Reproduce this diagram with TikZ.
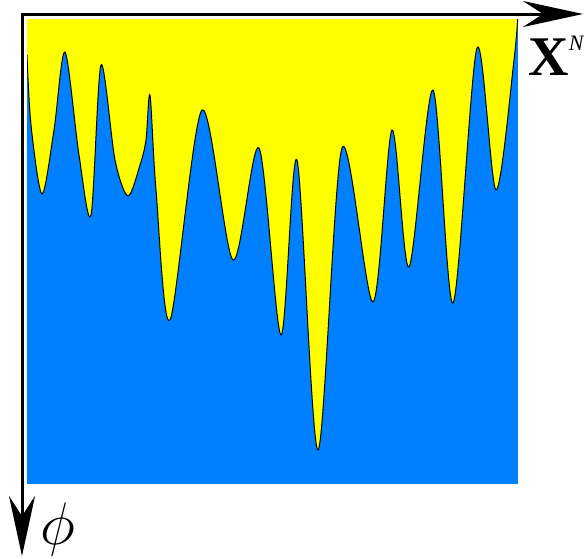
\documentclass[tikz,border=0pt]{standalone}
\usepackage{fontspec}
\usepackage{fix-cm}
\usetikzlibrary{arrows.meta}

\newfontfamily\labelfont{Liberation Serif}
\definecolor{phaseblue}{RGB}{0,128,255}
\definecolor{phaseyellow}{RGB}{255,255,0}

\begin{document}
\begin{tikzpicture}[
    x=0.5pt, y=-0.5pt,
    axis/.style={draw, line width=1.5pt, line join=miter,
        {Stealth[length=30pt, width=13pt, inset=10pt]}-{Stealth[length=30pt, width=13pt, inset=10pt]}},
    boundary/.style={draw=black, line width=0.5pt},
    axislabel/.style={inner sep=0pt, font=\fontsize{30}{32}\selectfont}
]
    \useasboundingbox (0,0) rectangle (584,558);

    % field below the front
    \fill[phaseblue] (27,19) rectangle (518,484);

    % yellow region above the front
    \begin{scope}
        \clip (27,19) rectangle (518,484);
        \draw[boundary, fill=phaseyellow] (20,0) -- (20,55) -- plot[smooth, tension=0.5] coordinates {
            (27,55) (31,125) (42,194) (54,130) (65,52) (79,155) (91,215) (101,65)
            (115,160) (128,196) (140,165) (146,140) (150,95) (156,190) (170,320)
            (202,110) (233,260) (259,148) (281,335) (297,160) (318,450) (342,148)
            (373,302) (392,130) (409,267) (433,90) (453,303) (477,48) (496,190)
            (514,60) (519,0)
        } -- cycle;
    \end{scope}

    \coordinate (origin) at (22,14);
    \coordinate (xend) at (583,14);
    \coordinate (yend) at (22,556);
    \draw[axis] (xend) -- (origin) -- (yend);

    \node[inner sep=0pt, anchor=base west] (xlabel) at (528,75)
        {\labelfont\fontsize{28}{30}\selectfont\textbf{X}\raisebox{12.5pt}{\fontsize{11}{12}\selectfont\itshape N}};
    \node[axislabel, anchor=base west] (philabel) at (40,544) {$\phi$};
\end{tikzpicture}
\end{document}
